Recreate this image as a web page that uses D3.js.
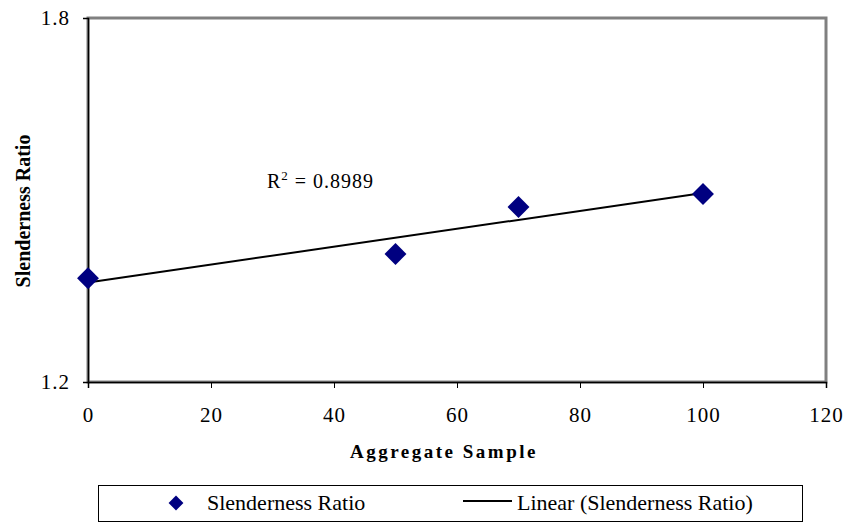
<!DOCTYPE html>
<html>
<head>
<meta charset="utf-8">
<script src="https://d3js.org/d3.v7.min.js"></script>
<style>
  body { margin: 0; background: #fff; }
  svg { font-family: "Liberation Serif", "Times New Roman", serif; }
</style>
</head>
<body>
<svg id="chart" width="846" height="525"></svg>
<script>
// values
var samples = [0, 50, 70, 100];
var ratios = [1.371, 1.411, 1.4885, 1.510];
var xTicks = [0, 20, 40, 60, 80, 100, 120];
var yTicks = [1.2, 1.8];
var r2Label = "0.8989";

var svg = d3.select("#chart");
var plotL = 88, plotR = 826, plotT = 18, plotB = 382;

var x = d3.scaleLinear().domain([0, 120]).range([plotL, plotR]);
var y = d3.scaleLinear().domain([1.2, 1.8]).range([plotB, plotT]);

// plot frame (grey, thick)
svg.append("rect")
  .attr("x", plotL).attr("y", plotT)
  .attr("width", plotR - plotL).attr("height", plotB - plotT)
  .attr("fill", "none").attr("stroke", "#808080").attr("stroke-width", 3);

function styleAxis(g) {
  g.select(".domain").attr("stroke", "#000").attr("stroke-width", 1.5);
  g.selectAll(".tick line").attr("stroke", "#000");
  g.selectAll(".tick text")
    .style("font-family", '"Liberation Serif", "Times New Roman", serif')
    .style("font-size", "21px")
    .style("letter-spacing", "1px")
    .attr("fill", "#000");
}

// axes
var xAxis = d3.axisBottom(x).tickValues(xTicks).tickSize(6).tickPadding(19).tickFormat(d3.format("d"));
var gx = svg.append("g").attr("transform", "translate(0," + plotB + ")").call(xAxis);
styleAxis(gx);

var yAxis = d3.axisLeft(y).tickValues(yTicks).tickSize(5).tickPadding(13).tickFormat(d3.format(".1f"));
var gy = svg.append("g").attr("transform", "translate(" + plotL + ",0)").call(yAxis);
styleAxis(gy);

// linear trendline from least squares
var mx = d3.mean(samples), my = d3.mean(ratios);
var sxy = d3.sum(samples, function(d, i) { return (d - mx) * (ratios[i] - my); });
var sxx = d3.sum(samples, function(d) { return (d - mx) * (d - mx); });
var slope = sxy / sxx, icpt = my - slope * mx;
var xs = d3.extent(samples);
svg.append("path")
  .attr("d", d3.line()([[x(xs[0]), y(icpt + slope * xs[0])], [x(xs[1]), y(icpt + slope * xs[1])]]))
  .attr("stroke", "#000").attr("stroke-width", 2).attr("fill", "none");

// points
var diamond = d3.symbol().type(d3.symbolSquare).size(240);
svg.selectAll(".pt").data(samples).enter().append("path")
  .attr("class", "pt")
  .attr("d", diamond)
  .attr("transform", function(d, i) { return "translate(" + x(d) + "," + y(ratios[i]) + ") rotate(45)"; })
  .attr("fill", "#000080");

// R squared label
var rt = svg.append("text").attr("x", 267).attr("y", 188).attr("font-size", 20)
  .attr("letter-spacing", 1).attr("fill", "#000");
rt.append("tspan").text("R");
rt.append("tspan").attr("font-size", 13).attr("dy", -8).text("2");
rt.append("tspan").attr("dy", 8).text(" = " + r2Label);

// axis titles
svg.append("text").attr("x", 444).attr("y", 458).attr("text-anchor", "middle")
  .attr("font-size", 19).attr("font-weight", "bold").attr("letter-spacing", 2.5)
  .text("Aggregate Sample");
svg.append("text").attr("transform", "translate(30,211) rotate(-90)").attr("text-anchor", "middle")
  .attr("font-size", 20).attr("font-weight", "bold")
  .text("Slenderness Ratio");

// legend
var lg = svg.append("g");
lg.append("rect").attr("x", 98.5).attr("y", 485.5).attr("width", 704).attr("height", 36)
  .attr("fill", "#fff").attr("stroke", "#000").attr("stroke-width", 1);
lg.append("path").attr("d", d3.symbol().type(d3.symbolSquare).size(110))
  .attr("transform", "translate(176,503) rotate(45)").attr("fill", "#000080");
lg.append("text").attr("x", 207).attr("y", 510).attr("font-size", 22).text("Slenderness Ratio");
lg.append("line").attr("x1", 463).attr("x2", 512).attr("y1", 501).attr("y2", 501)
  .attr("stroke", "#000").attr("stroke-width", 2);
lg.append("text").attr("x", 517).attr("y", 510).attr("font-size", 22).text("Linear (Slenderness Ratio)");
</script>
</body>
</html>
